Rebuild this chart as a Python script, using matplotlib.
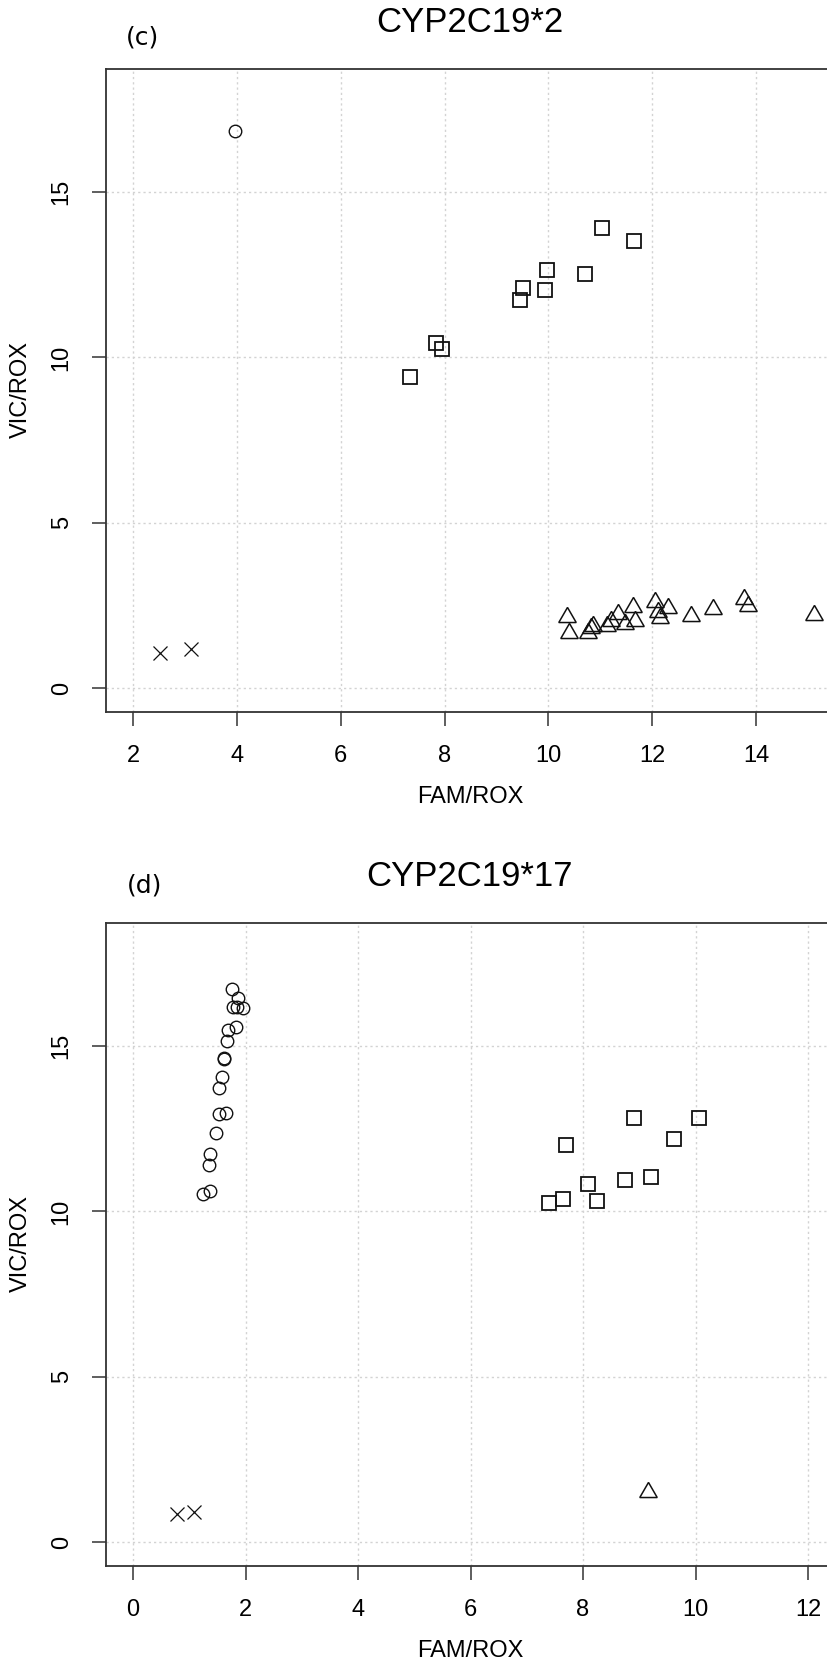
import matplotlib
matplotlib.use("Agg")
import matplotlib.pyplot as plt

# ---- panel (c): CYP2C19*2 ----
c_circle_x = [3.97]
c_circle_y = [16.85]
c_square_x = [11.03, 11.65, 9.97, 10.70, 9.51, 9.94, 9.46, 7.84, 7.96, 7.33]
c_square_y = [13.90, 13.52, 12.64, 12.53, 12.10, 12.04, 11.75, 10.44, 10.24, 9.41]
c_tri_x = [10.35, 10.40, 10.77, 10.85, 10.83, 11.12, 11.20, 11.35, 11.48, 11.62,
           11.66, 12.05, 12.12, 12.15, 12.31, 12.74, 13.17, 13.77, 13.85, 15.12]
c_tri_y = [2.14, 1.68, 1.68, 1.87, 1.82, 1.87, 2.04, 2.24, 1.94, 2.44,
           2.04, 2.61, 2.31, 2.11, 2.41, 2.18, 2.38, 2.70, 2.48, 2.21]
c_x_x = [2.52, 3.12]
c_x_y = [1.07, 1.17]

# ---- panel (d): CYP2C19*17 ----
d_circle_x = [1.755, 1.87, 1.78, 1.85, 1.96, 1.83, 1.69, 1.67, 1.61, 1.62,
              1.59, 1.53, 1.52, 1.65, 1.48, 1.37, 1.35, 1.24, 1.36]
d_circle_y = [16.71, 16.44, 16.19, 16.19, 16.14, 15.58, 15.48, 15.16, 14.63, 14.60,
              14.07, 13.74, 12.96, 12.99, 12.36, 11.73, 11.40, 10.52, 10.62]
d_square_x = [7.70, 8.91, 10.07, 9.61, 9.20, 8.75, 8.08, 7.64, 7.40, 8.25]
d_square_y = [12.00, 12.81, 12.83, 12.18, 11.04, 10.94, 10.84, 10.37, 10.24, 10.31]
d_tri_x = [9.15]
d_tri_y = [1.51]
d_x_x = [0.78, 1.09]
d_x_y = [0.86, 0.91]

c_xticks = [2, 4, 6, 8, 10, 12, 14]
d_xticks = [0, 2, 4, 6, 8, 10, 12]
yticks = [0, 5, 10, 15]

W, H = 827, 1663
fig = plt.figure(figsize=(W / 100, H / 100), dpi=100)
fig.patch.set_facecolor("white")

SANS = "Liberation Sans"
INK = "#333333"


def px_axes(left, top, right, bottom):
    return fig.add_axes([left / W, 1 - bottom / H, (right - left) / W, (bottom - top) / H])


def draw_panel(ax, xlo, xhi, xticks, groups):
    # R-style 4% padding around the plotting range
    pad = 0.04 * (xhi - xlo)
    ax.set_xlim(xlo - pad, xhi + pad)
    ax.set_ylim(-0.72, 18.72)
    ax.set_xticks(xticks)
    ax.set_yticks(yticks)
    ax.grid(True, color="#d3d3d3", linestyle=(0, (1.6, 2.2)), linewidth=1.0)
    ax.set_axisbelow(True)
    for sp in ax.spines.values():
        sp.set_color(INK)
        sp.set_linewidth(1.3)
    ax.tick_params(direction="out", length=10, width=1.1, color=INK, pad=14,
                   labelsize=17, labelcolor="black")
    for lab in ax.get_xticklabels():
        lab.set_fontfamily(SANS)
    for lab in ax.get_yticklabels():
        lab.set_fontfamily(SANS)
        lab.set_rotation(90)
        lab.set_va("center")
    for xs, ys, marker, ms, mew in groups:
        ax.plot(xs, ys, linestyle="none", marker=marker, markersize=ms,
                markerfacecolor="none", markeredgecolor="#111111", markeredgewidth=mew)


tri = (3, 0, 0)

ax1 = px_axes(106, 69, 835, 712)
draw_panel(ax1, 2, 15, c_xticks, [
    (c_circle_x, c_circle_y, "o", 9.0, 1.0),
    (c_square_x, c_square_y, "s", 9.8, 1.3),
    (c_tri_x, c_tri_y, tri, 14.5, 1.1),
    (c_x_x, c_x_y, "x", 9.8, 0.9),
])

ax2 = px_axes(106, 923, 835, 1566)
draw_panel(ax2, 0, 12, d_xticks, [
    (d_circle_x, d_circle_y, "o", 9.0, 1.0),
    (d_square_x, d_square_y, "s", 9.8, 1.3),
    (d_tri_x, d_tri_y, tri, 14.5, 1.1),
    (d_x_x, d_x_y, "x", 9.8, 0.9),
])


def ftext(x, y, s, **kw):
    fig.text(x / W, 1 - y / H, s, ha="center", va="center", **kw)


# titles, panel letters and axis labels
ftext(470, 22, "CYP2C19*2", fontsize=25, family=SANS)
ftext(470, 876, "CYP2C19*17", fontsize=25, family=SANS)
ftext(143, 38, "(c)", fontsize=18, family="DejaVu Sans")
ftext(145, 886, "(d)", fontsize=18, family="DejaVu Sans")
ftext(470, 797, "FAM/ROX", fontsize=17, family=SANS)
ftext(470, 1651, "FAM/ROX", fontsize=17, family=SANS)
ftext(21, 390, "VIC/ROX", fontsize=17, family=SANS, rotation=90)
ftext(21, 1244, "VIC/ROX", fontsize=17, family=SANS, rotation=90)

fig.savefig("out.png", dpi=100)
